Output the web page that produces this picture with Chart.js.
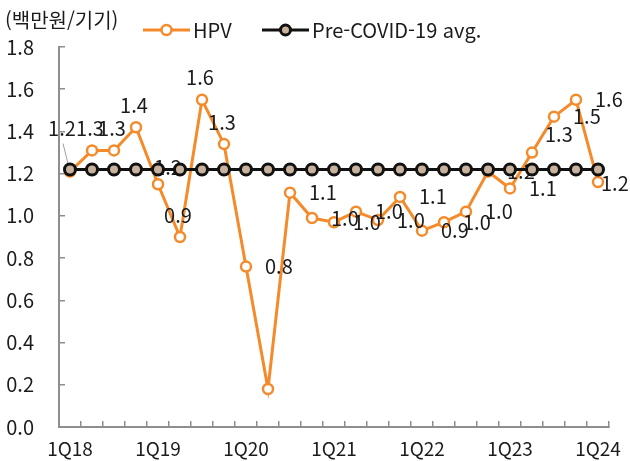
<!DOCTYPE html>
<html lang="ko">
<head>
<meta charset="UTF-8">
<title>HPV</title>
<script src="https://cdn.jsdelivr.net/npm/chart.js"></script>
<style>
  html, body { margin: 0; padding: 0; background: #fff; }
  #wrap { width: 630px; height: 461px; }
</style>
</head>
<body>
<div id="wrap"><canvas id="chart" width="630" height="461"></canvas></div>
<script>
// data
const quarters = [
  '1Q18', '2Q18', '3Q18', '4Q18',
  '1Q19', '2Q19', '3Q19', '4Q19',
  '1Q20', '2Q20', '3Q20', '4Q20',
  '1Q21', '2Q21', '3Q21', '4Q21',
  '1Q22', '2Q22', '3Q22', '4Q22',
  '1Q23', '2Q23', '3Q23', '4Q23',
  '1Q24'
];
const hpv = [
  1.21, 1.31, 1.31, 1.42,
  1.15, 0.90, 1.55, 1.34,
  0.76, 0.18, 1.11, 0.99,
  0.97, 1.02, 0.98, 1.09,
  0.93, 0.97, 1.02, 1.21,
  1.13, 1.30, 1.47, 1.55,
  1.16
];
const preCovidAvg = quarters.map(() => 1.22);
const yTicks = [0, 0.2, 0.4, 0.6, 0.8, 1.0, 1.2, 1.4, 1.6, 1.8];
const unitLabel = '(백만원/기기)';
const seriesNames = ['HPV', 'Pre-COVID-19 avg.'];
// where each HPV value label sits (null = no label)
const labelPlace = [
  'leader', 'above', 'above', 'above',
  'over', 'above', 'above', 'above',
  'right', null, 'right', 'right',
  'right', 'right', 'right', 'right',
  'right', 'right', 'right', 'right',
  'right', 'upright', 'right', 'right',
  'edge'
];

const FONT = '"Noto Sans CJK KR", "Noto Sans", sans-serif';
const ORANGE = '#F58A2A';
const TAN = '#C8B29D';
const GREY = '#8e8e8e';
const INK = '#1b1b1b';

function fmt(v) {
  return (Math.round(v * 10 + 1e-9) / 10).toFixed(1);
}

const offsets = {
  leader:  { dx: -8, dy: -43, align: 'center' },
  above:   { dx: -2, dy: -22, align: 'center' },
  over:    { dx: 10, dy: -17, align: 'center' },
  right:   { dx: 19, dy: 0, align: 'left' },
  upright: { dx: 13, dy: -18, align: 'left' },
  edge:    { dx: 3, dy: 1, align: 'left' }
};

const valueLabels = {
  id: 'valueLabels',
  afterDatasetDraw(chart, args) {
    if (args.index !== 0) return;
    const ctx = chart.ctx;
    ctx.save();
    ctx.font = '20px ' + FONT;
    ctx.fillStyle = INK;
    ctx.textBaseline = 'middle';
    args.meta.data.forEach((pt, i) => {
      const o = offsets[labelPlace[i]];
      if (!o) return;
      const x = pt.x + o.dx, y = pt.y + o.dy;
      if (labelPlace[i] === 'leader') {
        ctx.strokeStyle = '#a0a0a0';
        ctx.lineWidth = 1;
        ctx.beginPath();
        ctx.moveTo(x + 1, y + 15);
        ctx.lineTo(pt.x - 2, pt.y - 8);
        ctx.stroke();
      }
      ctx.textAlign = o.align;
      ctx.fillText(fmt(hpv[i]), x, y);
    });
    ctx.restore();
  }
};

const legendAndUnit = {
  id: 'legendAndUnit',
  afterDraw(chart) {
    const ctx = chart.ctx;
    ctx.save();
    ctx.font = '20px ' + FONT;
    ctx.fillStyle = INK;
    ctx.textBaseline = 'middle';
    ctx.textAlign = 'left';
    ctx.fillText(unitLabel, 5, 20);

    const items = [
      { x: 143, color: ORANGE, fill: '#fff', bw: 2.5, text: seriesNames[0] },
      { x: 262, color: '#111', fill: TAN, bw: 3, text: seriesNames[1] }
    ];
    const y = 30;
    items.forEach(it => {
      ctx.strokeStyle = it.color;
      ctx.lineWidth = 3;
      ctx.beginPath();
      ctx.moveTo(it.x, y);
      ctx.lineTo(it.x + 47, y);
      ctx.stroke();
      ctx.beginPath();
      ctx.arc(it.x + 23.5, y, 5, 0, Math.PI * 2);
      ctx.fillStyle = it.fill;
      ctx.fill();
      ctx.lineWidth = it.bw;
      ctx.stroke();
      ctx.fillStyle = INK;
      ctx.fillText(it.text, it.x + 50, y);
    });
    ctx.restore();
  }
};

new Chart(document.getElementById('chart'), {
  type: 'line',
  data: {
    labels: quarters,
    datasets: [
      {
        label: seriesNames[0],
        data: hpv,
        order: 2,
        borderColor: ORANGE,
        borderWidth: 3,
        pointRadius: 5,
        pointBorderWidth: 2.5,
        pointBackgroundColor: '#fff',
        pointBorderColor: ORANGE,
        tension: 0
      },
      {
        label: seriesNames[1],
        data: preCovidAvg,
        order: 1,
        borderColor: '#111',
        borderWidth: 3,
        pointRadius: 5.5,
        pointBorderWidth: 3,
        pointBackgroundColor: TAN,
        pointBorderColor: '#111',
        tension: 0
      }
    ]
  },
  options: {
    responsive: false,
    animation: false,
    layout: { padding: { top: 47, right: 21, left: 0, bottom: 0 } },
    plugins: {
      legend: { display: false },
      tooltip: { enabled: false }
    },
    scales: {
      x: {
        offset: true,
        grid: { offset: true, drawOnChartArea: false, drawTicks: true, tickLength: -6, color: GREY, lineWidth: 1.5 },
        border: { color: GREY, width: 2 },
        ticks: {
          autoSkip: false,
          maxRotation: 0,
          padding: 16,
          color: INK,
          font: { family: FONT, size: 19 },
          callback: (v, i) => (i % 4 === 0 ? quarters[i] : '')
        },
        afterFit: s => {
          s.height = 34;
          s.paddingLeft = 0;
          s.paddingRight = 0;
        }
      },
      y: {
        min: 0,
        max: 1.8,
        afterBuildTicks: s => { s.ticks = yTicks.map(v => ({ value: v })); },
        grid: { drawOnChartArea: false, drawTicks: true, tickLength: -6, color: GREY, lineWidth: 1.5 },
        border: { color: GREY, width: 2 },
        ticks: {
          padding: 31,
          color: INK,
          font: { family: FONT, size: 20 },
          callback: v => v.toFixed(1)
        },
        afterFit: s => {
          s.width = 59;
          s.paddingTop = 0;
          s.paddingBottom = 0;
        }
      }
    }
  },
  plugins: [valueLabels, legendAndUnit]
});
</script>
</body>
</html>
